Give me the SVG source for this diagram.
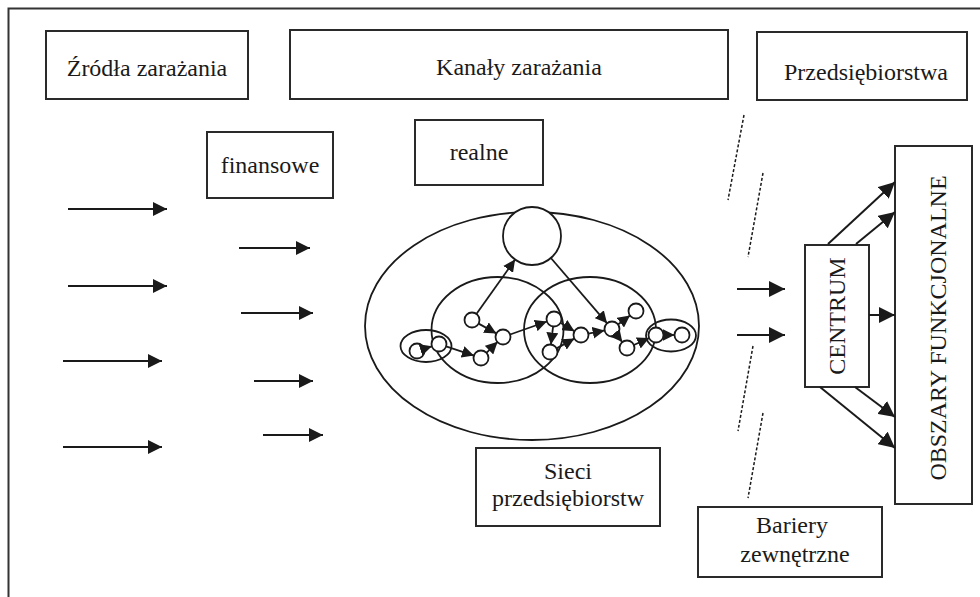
<svg xmlns="http://www.w3.org/2000/svg" width="980" height="597" viewBox="0 0 980 597">
<defs>
<style>
.box{fill:#fff;stroke:#2a2a2a;stroke-width:2}
.t{font-family:'Liberation Serif','Times New Roman','DejaVu Serif',serif;font-size:24px;fill:#1a1a1a;text-anchor:middle}
.ln{stroke:#1a1a1a;stroke-width:2;fill:none}
.nl{stroke:#1a1a1a;stroke-width:1.8;fill:none}
.c{fill:#fff;stroke:#1a1a1a;stroke-width:1.8}
.e{fill:none;stroke:#1a1a1a;stroke-width:1.8}
.dash{stroke:#1a1a1a;stroke-width:1.5;stroke-dasharray:3 2;fill:none}
</style>
<marker id="ah" markerUnits="userSpaceOnUse" markerWidth="14" markerHeight="14" refX="14" refY="7" orient="auto"><path d="M0,0 L14,7 L0,14 z" fill="#1a1a1a"/></marker>
<marker id="ahs" markerUnits="userSpaceOnUse" markerWidth="12" markerHeight="12" refX="12" refY="6" orient="auto"><path d="M0,0 L12,6 L0,12 z" fill="#1a1a1a"/></marker>
<marker id="ahb" markerUnits="userSpaceOnUse" markerWidth="16" markerHeight="16" refX="16" refY="8" orient="auto"><path d="M0,0 L16,8 L0,16 z" fill="#1a1a1a"/></marker>
</defs>
<rect width="980" height="597" fill="#fff"/>
<path d="M8.5,597 V8.5 H980" fill="none" stroke="#333" stroke-width="2"/>

<g id="zrodla"><rect class="box" x="46" y="31" width="202" height="68"/><text class="t" font-family="Liberation Serif, serif" x="147" y="76">Źródła zarażania</text></g>
<g id="kanaly"><rect class="box" x="290" y="30" width="438" height="69"/><text class="t" font-family="Liberation Serif, serif" x="519" y="75">Kanały zarażania</text></g>
<g id="przedsiebiorstwa"><rect class="box" x="757" y="32" width="210" height="68"/><text class="t" font-family="Liberation Serif, serif" x="866" y="80">Przedsiębiorstwa</text></g>
<g id="finansowe"><rect class="box" x="207" y="132" width="126" height="66"/><text class="t" font-family="Liberation Serif, serif" x="270" y="173">finansowe</text></g>
<g id="realne"><rect class="box" x="415" y="120" width="128" height="65"/><text class="t" font-family="Liberation Serif, serif" x="479" y="160">realne</text></g>
<g id="sieci"><rect class="box" x="476" y="448" width="184" height="78"/><text class="t" font-family="Liberation Serif, serif" x="568" y="479">Sieci</text><text class="t" font-family="Liberation Serif, serif" x="568" y="506">przedsiębiorstw</text></g>
<g id="bariery"><rect class="box" x="698" y="507" width="184" height="70"/><text class="t" font-family="Liberation Serif, serif" x="792" y="533">Bariery</text><text class="t" font-family="Liberation Serif, serif" x="795" y="562">zewnętrzne</text></g>
<g id="centrum"><rect class="box" x="805" y="245" width="64" height="142"/><text class="t" font-family="Liberation Serif, serif" transform="translate(845,316) rotate(-90)" font-size="23">CENTRUM</text></g>
<g id="obszary"><rect class="box" x="895" y="146" width="77" height="358"/><text class="t" font-family="Liberation Serif, serif" transform="translate(946,328) rotate(-90)">OBSZARY FUNKCJONALNE</text></g>

<g id="network">
<ellipse class="e" cx="532" cy="326" rx="167" ry="114"/>
<circle class="c" cx="532" cy="236" r="29"/>
<ellipse class="e" cx="497.5" cy="330" rx="66" ry="53"/>
<ellipse class="e" cx="590" cy="330" rx="66" ry="53"/>
<ellipse class="e" cx="426" cy="346" rx="25.5" ry="16"/>
<ellipse class="e" cx="671" cy="335.5" rx="25" ry="16"/>
<g>
<circle class="c" cx="417" cy="351" r="7.5"/>
<circle class="c" cx="439" cy="344" r="7.5"/>
<circle class="c" cx="472" cy="320" r="7.5"/>
<circle class="c" cx="503" cy="337" r="7.5"/>
<circle class="c" cx="481" cy="358" r="7.5"/>
<circle class="c" cx="554" cy="319" r="7.5"/>
<circle class="c" cx="550" cy="352" r="7.5"/>
<circle class="c" cx="581" cy="335" r="7.5"/>
<circle class="c" cx="612" cy="329" r="7.5"/>
<circle class="c" cx="636" cy="311" r="7.5"/>
<circle class="c" cx="627" cy="348" r="7.5"/>
<circle class="c" cx="656" cy="335" r="7.5"/>
<circle class="c" cx="682" cy="335" r="7.5"/>
</g>
</g>

<g id="connectors">
<line class="ln" x1="68" y1="209" x2="167" y2="209" marker-end="url(#ah)"/>
<line class="ln" x1="68" y1="286" x2="167" y2="286" marker-end="url(#ah)"/>
<line class="ln" x1="63" y1="361" x2="162" y2="361" marker-end="url(#ah)"/>
<line class="ln" x1="63" y1="447" x2="162" y2="447" marker-end="url(#ah)"/>
<line class="ln" x1="239" y1="248" x2="310" y2="248" marker-end="url(#ah)"/>
<line class="ln" x1="241" y1="313" x2="313" y2="313" marker-end="url(#ah)"/>
<line class="ln" x1="254" y1="381" x2="313" y2="381" marker-end="url(#ah)"/>
<line class="ln" x1="263" y1="435" x2="323" y2="435" marker-end="url(#ah)"/>

<line class="nl" x1="476.4" y1="313.9" x2="515.1" y2="259.6" marker-end="url(#ahs)"/>
<line class="nl" x1="550.9" y1="258" x2="607.1" y2="323.3" marker-end="url(#ahs)"/>
<line class="nl" x1="424.1" y1="348.7" x2="431.9" y2="346.3" marker-end="url(#ahs)"/>
<line class="nl" x1="446.1" y1="346.4" x2="473.9" y2="355.6" marker-end="url(#ahs)"/>
<line class="nl" x1="478.6" y1="323.6" x2="496.4" y2="333.4" marker-end="url(#ahs)"/>
<line class="nl" x1="486.4" y1="352.8" x2="497.6" y2="341.8" marker-end="url(#ahs)"/>
<line class="nl" x1="510.1" y1="334.5" x2="546.9" y2="321.5" marker-end="url(#ahs)"/>
<line class="nl" x1="553.1" y1="326.4" x2="550.9" y2="344.6" marker-end="url(#ahs)"/>
<line class="nl" x1="560.4" y1="322.8" x2="574.5" y2="331.2" marker-end="url(#ahs)"/>
<line class="nl" x1="556.6" y1="348.4" x2="574.4" y2="338.6" marker-end="url(#ahs)"/>
<line class="nl" x1="588.4" y1="333.6" x2="604.6" y2="330.4" marker-end="url(#ahs)"/>
<line class="nl" x1="618" y1="324.5" x2="630" y2="315.5" marker-end="url(#ahs)"/>
<line class="nl" x1="616.6" y1="334.9" x2="622.3" y2="342.1" marker-end="url(#ahs)"/>
<line class="nl" x1="633.8" y1="345" x2="649.2" y2="338.1" marker-end="url(#ahs)"/>
<line class="nl" x1="663.5" y1="335" x2="674.5" y2="335" marker-end="url(#ahs)"/>

<line class="dash" x1="744" y1="115" x2="728" y2="200"/>
<line class="dash" x1="763" y1="173" x2="748" y2="257"/>
<line class="dash" x1="753" y1="346" x2="738" y2="431"/>
<line class="dash" x1="763" y1="413" x2="748" y2="498"/>

<line class="ln" x1="737" y1="289" x2="785" y2="289" marker-end="url(#ahb)"/>
<line class="ln" x1="737" y1="335" x2="785" y2="335" marker-end="url(#ahb)"/>

<line class="ln" x1="828" y1="244" x2="895" y2="182" marker-end="url(#ahb)"/>
<line class="ln" x1="856" y1="244" x2="895" y2="212" marker-end="url(#ahb)"/>
<line class="ln" x1="869" y1="315" x2="895" y2="315" marker-end="url(#ahb)"/>
<line class="ln" x1="855" y1="387" x2="895" y2="417" marker-end="url(#ahb)"/>
<line class="ln" x1="820" y1="387" x2="895" y2="448" marker-end="url(#ahb)"/>
</g>
</svg>
